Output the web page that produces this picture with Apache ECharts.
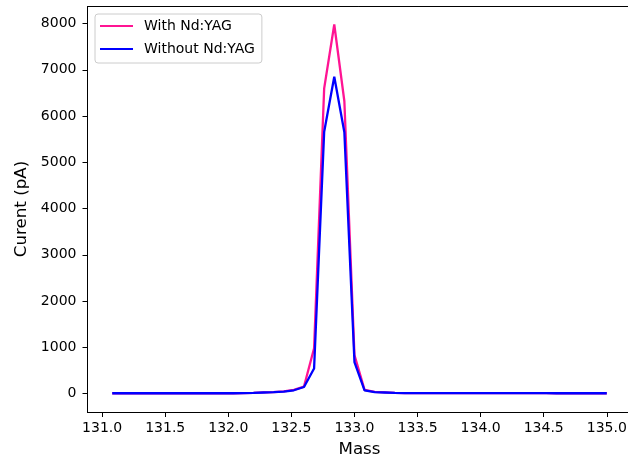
<!DOCTYPE html>
<html>
<head>
<meta charset="utf-8">
<script src="https://cdn.jsdelivr.net/npm/echarts@6/dist/echarts.min.js"></script>
<style>html,body{margin:0;padding:0;background:#fff;overflow:hidden;}#c{width:628px;height:462px;}</style>
</head>
<body>
<div id="c"></div>
<script>
const masses = [131.08,131.16,131.24,131.32,131.40,131.48,131.56,131.64,131.72,131.80,
  131.88,131.96,132.04,132.12,132.20,132.28,132.36,132.44,132.52,132.60,
  132.68,132.76,132.84,132.92,133.00,133.08,133.16,133.24,133.32,133.40,
  133.48,133.56,133.64,133.72,133.80,133.88,133.96,134.04,134.12,134.20,
  134.28,134.36,134.44,134.52,134.60,134.68,134.76,134.84,134.92,135.00];
const withYAG = [5,5,5,5,5,5,5,5,5,5,
  5,5,6,8,12,25,30,45,80,150,
  980,6600,7980,6320,830,80,35,25,15,10,
  8,8,8,7,7,7,7,7,7,7,
  7,7,7,7,6,6,6,6,6,6];
const withoutYAG = [5,5,5,5,5,5,5,5,5,5,
  5,5,6,8,12,22,28,40,70,140,
  540,5660,6850,5650,680,70,30,22,14,10,
  8,8,8,7,7,7,7,7,7,7,
  7,7,7,7,6,6,6,6,6,6];
const xTicks = [131.0,131.5,132.0,132.5,133.0,133.5,134.0,134.5,135.0];
const yTicks = [0,1000,2000,3000,4000,5000,6000,7000,8000];
const seriesNames = ['With Nd:YAG','Without Nd:YAG'];

const font = 'DejaVu Sans';
const xMin = 130.884, xMax = 135.196;
const yMin = -400, yMax = 8380;
const chart = echarts.init(document.getElementById('c'), null, {renderer:'canvas'});
chart.setOption({
  animation: false,
  backgroundColor: '#ffffff',
  grid: {left: 87.5, top: 6, right: -3.5, bottom: 50, outerBoundsMode: 'none', containLabel: false, show: false},
  legend: {
    orient: 'vertical', left: 95, top: 14,
    data: seriesNames,
    icon: 'rect', itemWidth: 33, itemHeight: 2, itemGap: 7,
    padding: [4, 7, 6, 5],
    borderColor: '#cccccc', borderWidth: 1, borderRadius: 3,
    backgroundColor: 'rgba(255,255,255,0.8)',
    textStyle: {fontFamily: font, fontSize: 14, color: '#000', lineHeight: 16, padding: [0,0,0,6]}
  },
  xAxis: [{
    type: 'value', min: xMin, max: xMax, position: 'bottom',
    name: 'Mass', nameLocation: 'middle', nameGap: 29,
    nameTextStyle: {fontFamily: font, fontSize: 16.7, color: '#000'},
    axisLine: {show: true, onZero: false, lineStyle: {color: '#000', width: 1}},
    axisTick: {show: true, inside: false, length: 5, customValues: xTicks, lineStyle: {color: '#000'}},
    axisLabel: {show: true, margin: 9, customValues: xTicks, fontFamily: font, fontSize: 14, color: '#000',
      formatter: v => v.toFixed(1)},
    splitLine: {show: false}
  }, {
    type: 'value', min: xMin, max: xMax, position: 'top',
    axisLine: {show: true, onZero: false, lineStyle: {color: '#000', width: 1}},
    axisTick: {show: false}, axisLabel: {show: false}, splitLine: {show: false}
  }],
  yAxis: {
    type: 'value', min: yMin, max: yMax,
    name: 'Curent (pA)', nameLocation: 'middle', nameGap: 57, nameRotate: 90,
    nameTextStyle: {fontFamily: font, fontSize: 16.7, color: '#000'},
    axisLine: {show: false},
    axisTick: {show: true, inside: false, length: 5, customValues: yTicks, lineStyle: {color: '#000'}},
    axisLabel: {show: true, margin: 11, customValues: yTicks, fontFamily: font, fontSize: 14, color: '#000',
      formatter: v => String(Math.round(v))},
    splitLine: {show: false}
  },
  series: [
    {name: seriesNames[0], type: 'line', xAxisIndex: 0, data: masses.map((m,i)=>[m, withYAG[i]]),
     symbol: 'none', lineStyle: {color: '#ff1493', width: 2.3}, itemStyle: {color: '#ff1493'}},
    {name: seriesNames[1], type: 'line', xAxisIndex: 0, data: masses.map((m,i)=>[m, withoutYAG[i]]),
     symbol: 'none', lineStyle: {color: '#0000ff', width: 2.3}, itemStyle: {color: '#0000ff'}}
  ]
});
// left spine as a thin filled rect, positioned through the axis scales
const p0 = chart.convertToPixel({gridIndex: 0}, [xMin, yMin]);
const p1 = chart.convertToPixel({gridIndex: 0}, [xMin, yMax]);
chart.setOption({graphic: [{type: 'rect', z: 100, silent: true,
  shape: {x: Math.round(p0[0]) - 1, y: Math.min(p0[1], p1[1]), width: 1, height: Math.abs(p0[1] - p1[1]) + 1},
  style: {fill: '#000', stroke: null}}]});
</script>
</body>
</html>
